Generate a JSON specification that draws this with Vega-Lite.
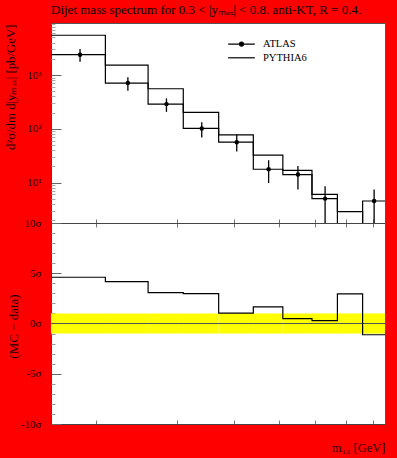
{
  "$schema": "https://vega.github.io/schema/vega-lite/v6.json",
  "background": "#ff0000",
  "padding": {"left": 3, "top": 3, "right": 13, "bottom": 6},
  "title": {"text": "Dijet mass spectrum for 0.3 < |yₘₐₓ| < 0.8. anti-KT, R = 0.4.", "anchor": "start", "frame": "group", "font": "Liberation Serif", "fontSize": 13, "fontWeight": "normal", "color": "#000000", "offset": 6},
  "config": {
    "view": {"fill": "white", "stroke": "#555555", "strokeWidth": 1},
    "font": "Liberation Serif",
    "axis": {"grid": false, "domainColor": "#444444", "tickColor": "#777777", "labelFont": "Liberation Serif", "titleFont": "Liberation Serif", "labelColor": "#1a0000", "titleColor": "#1a0000", "titleFontWeight": "normal", "labelFontSize": 11, "titleFontSize": 12.8, "labelOverlap": false, "labelFlush": false, "labelBound": false}
  },
  "spacing": 0,
  "bounds": "flush",
  "datasets": {
    "bins": [
      {"i": 1, "lo": 160, "hi": 210, "c": 185, "data": 2390, "elo": 1770, "ehi": 3055, "mc": 5500, "sig": 4.6},
      {"i": 2, "lo": 210, "hi": 260, "c": 235, "data": 710, "elo": 509, "ehi": 906, "mc": 1535, "sig": 4.17},
      {"i": 3, "lo": 260, "hi": 310, "c": 285, "data": 288, "elo": 207, "ehi": 368, "mc": 556, "sig": 3.07},
      {"i": 4, "lo": 310, "hi": 370, "c": 340, "data": 101.6, "elo": 69, "ehi": 133, "mc": 202, "sig": 2.97},
      {"i": 5, "lo": 370, "hi": 440, "c": 405, "data": 56.4, "elo": 37.9, "ehi": 78.3, "mc": 77, "sig": 1.03},
      {"i": 6, "lo": 440, "hi": 510, "c": 475, "data": 17.7, "elo": 9.8, "ehi": 26, "mc": 32.3, "sig": 1.65},
      {"i": 7, "lo": 510, "hi": 590, "c": 550, "data": 14.1, "elo": 7.4, "ehi": 20.4, "mc": 16.9, "sig": 0.48},
      {"i": 8, "lo": 590, "hi": 670, "c": 630, "data": 5.03, "elo": 1.5, "ehi": 8.5, "mc": 6.05, "sig": 0.28},
      {"i": 9, "lo": 670, "hi": 760, "c": 715, "data": 1, "mc": 2.88, "sig": 2.95},
      {"i": 10, "lo": 760, "hi": 850, "c": 805, "data": 4.54, "elo": 1.6, "ehi": 7.4, "mc": 1.3, "sig": -1.12}
    ]
  },
  "vconcat": [
    {
      "width": 334,
      "height": 200,
      "data": {"name": "bins"},
      "resolve": {"axis": {"y": "independent"}},
      "layer": [
        {
          "transform": [
            {"fold": ["data", "mc"], "as": ["series", "val"]},
            {"fold": ["lo", "hi"], "as": ["edge", "m"]}
          ],
          "mark": {"type": "line", "clip": true, "strokeWidth": 1.2},
          "encoding": {
            "x": {"field": "m", "type": "quantitative", "scale": {"type": "log", "domain": [160, 850], "nice": false},
              "axis": {"orient": "bottom", "values": [200, 300, 400, 500, 600, 700, 800], "labels": false, "title": null, "tickSize": -4}},
            "y": {"field": "val", "type": "quantitative", "scale": {"type": "log", "domain": [1.77, 9300], "nice": false},
              "axis": {
                "orient": "left",
                "values": [10, 100, 1000],
                "labelExpr": "datum.value == 1000 ? '10³' : datum.value == 100 ? '10²' : '10¹'",
                "labelOverlap": false,
                "tickSize": -10,
                "tickColor": "#666666",
                "labelPadding": 20,
                "title": "d²σ/dm d|yₘₐₓ| [pb/GeV]",
                "titleAngle": -90,
                "titleX": -41,
                "titleY": 1,
                "titleAlign": "right",
                "titleBaseline": "middle"
              }},
            "color": {"field": "series", "type": "nominal", "scale": {"domain": ["data", "mc"], "range": ["#000000", "#000000"]},
              "legend": {
                "orient": "none", "legendX": 183, "legendY": 13.6, "title": null, "padding": 0,
                "symbolSize": 178, "symbolStrokeWidth": 1.2, "symbolStrokeColor": "#000000", "symbolFillColor": "#000000",
                "labelOffset": 14, "rowPadding": 0.7, "labelFont": "Liberation Serif", "labelFontSize": 10.5, "labelColor": "#000000",
                "labelExpr": "datum.value == 'data' ? 'ATLAS' : 'PYTHIA6'",
                "encode": {"symbols": {"update": {
                  "shape": {"signal": "datum.value == 'data' ? 'M-2,0H2M-0.3,0A0.3,0.3,0,1,0,0.3,0A0.3,0.3,0,1,0,-0.3,0Z' : 'M-2,0H2'"},
                  "fill": {"value": "#000000"}, "stroke": {"value": "#000000"}
                }}}
              }},
            "order": [{"field": "m", "type": "quantitative"}, {"field": "i", "type": "quantitative"}]
          }
        },
        {
          "mark": {"type": "rule", "clip": true, "strokeWidth": 1.3, "color": "#000000"},
          "encoding": {
            "x": {"field": "c", "type": "quantitative"},
            "y": {"field": "elo", "type": "quantitative",
              "axis": {"orient": "left", "values": [2, 3, 4, 5, 6, 7, 8, 9, 20, 30, 40, 50, 60, 70, 80, 90, 200, 300, 400, 500, 600, 700, 800, 900, 2000, 3000, 4000, 5000, 6000, 7000, 8000, 9000],
                "labels": false, "title": null, "domain": false, "tickSize": -4, "tickColor": "#aaaaaa"}},
            "y2": {"field": "ehi"}
          }
        },
        {
          "mark": {"type": "point", "filled": true, "size": 20, "color": "#000000", "opacity": 1, "clip": true},
          "encoding": {
            "x": {"field": "c", "type": "quantitative"},
            "y": {"field": "data", "type": "quantitative", "axis": null}
          }
        }
      ]
    },
    {
      "width": 334,
      "height": 201,
      "data": {"name": "bins"},
      "resolve": {"axis": {"x": "independent", "y": "independent"}},
      "layer": [
        {
          "mark": {"type": "rect", "color": "#ffff00"},
          "encoding": {
            "x": {"field": "lo", "type": "quantitative", "scale": {"type": "log", "domain": [160, 850], "nice": false},
              "axis": {"orient": "top", "values": [200, 300, 400, 500, 600, 700, 800], "labels": false, "title": null, "tickSize": -4}},
            "x2": {"field": "hi"},
            "y": {"datum": -1, "type": "quantitative", "scale": {"domain": [-10, 10], "nice": false},
              "axis": {
                "orient": "left",
                "values": [-10, -5, 0, 5, 10],
                "labelExpr": "datum.value + 'σ'",
                "labelOverlap": false,
                "tickSize": -10,
                "tickColor": "#666666",
                "labelPadding": 20,
                "title": "(MC − data)",
                "titleFontSize": 13,
                "titleAngle": -90,
                "titleX": -38,
                "titleY": 103,
                "titleAlign": "center",
                "titleBaseline": "middle"
              }},
            "y2": {"datum": 1}
          }
        },
        {
          "mark": {"type": "rule", "color": "#555555", "strokeWidth": 1},
          "encoding": {"y": {"datum": 0, "type": "quantitative", "axis": null}}
        },
        {
          "transform": [{"fold": ["lo", "hi"], "as": ["edge", "m"]}],
          "mark": {"type": "line", "clip": true, "strokeWidth": 1.2, "color": "#000000"},
          "encoding": {
            "x": {"field": "m", "type": "quantitative",
              "axis": {"orient": "bottom", "values": [200, 300, 400, 500, 600, 700, 800], "labels": false, "tickSize": -4,
                "title": "m₁₂ [GeV]", "titleFontSize": 12.5, "titleAlign": "right", "titleAnchor": "end", "titleX": 334, "titleY": 27, "titleBaseline": "alphabetic"}},
            "y": {"field": "sig", "type": "quantitative",
              "axis": {"orient": "left", "values": [-9, -8, -7, -6, -4, -3, -2, -1, 1, 2, 3, 4, 6, 7, 8, 9],
                "labels": false, "title": null, "domain": false, "tickSize": -4, "tickColor": "#999999"}},
            "order": [{"field": "m", "type": "quantitative"}, {"field": "i", "type": "quantitative"}]
          }
        }
      ]
    }
  ]
}
